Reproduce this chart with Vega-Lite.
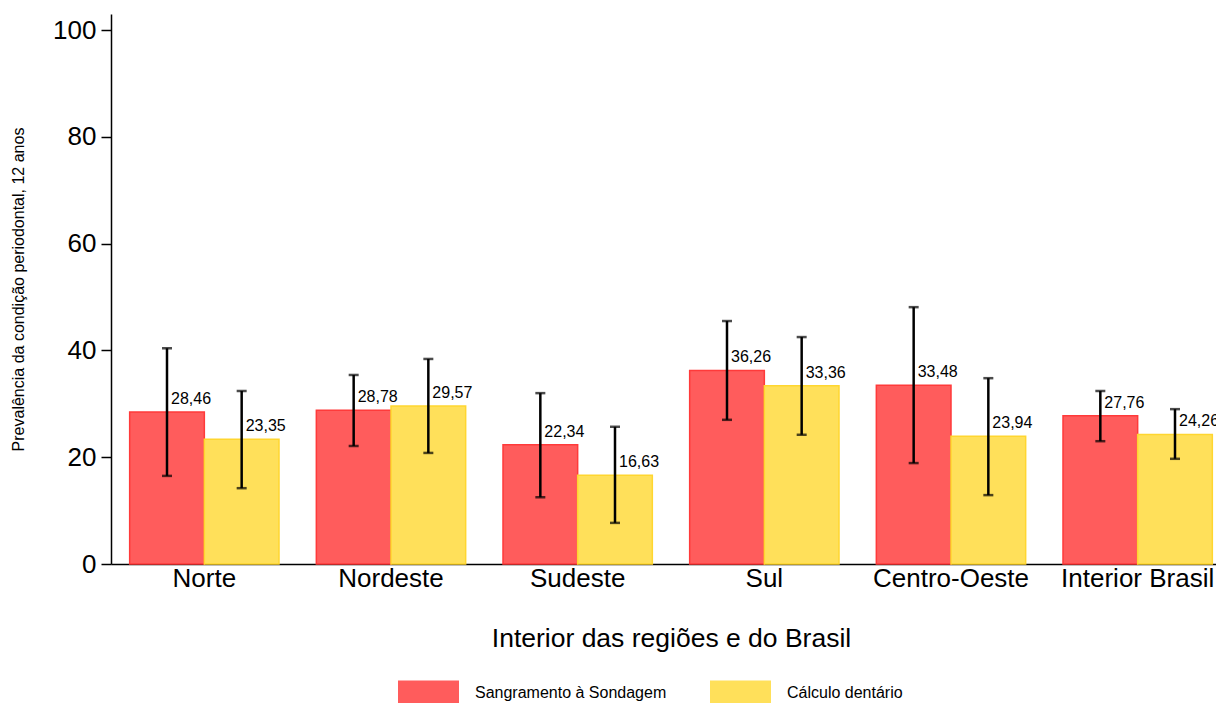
{
  "$schema": "https://vega.github.io/schema/vega-lite/v6.json",
  "autosize": {"type": "none"},
  "width": 1105,
  "height": 550,
  "padding": {"left": 111, "top": 14, "right": 0, "bottom": 139},
  "background": "white",
  "config": {
    "view": {"stroke": null},
    "font": "Liberation Sans",
    "locale": {"number": {"decimal": ",", "thousands": ".", "grouping": [3], "currency": ["R$", ""]}}
  },
  "data": {
    "values": [
      {"regiao": "Norte", "serie": "Sangramento à Sondagem", "valor": 28.46, "lo": 16.5, "hi": 40.4},
      {"regiao": "Norte", "serie": "Cálculo dentário", "valor": 23.35, "lo": 14.2, "hi": 32.4},
      {"regiao": "Nordeste", "serie": "Sangramento à Sondagem", "valor": 28.78, "lo": 22.1, "hi": 35.4},
      {"regiao": "Nordeste", "serie": "Cálculo dentário", "valor": 29.57, "lo": 20.8, "hi": 38.4},
      {"regiao": "Sudeste", "serie": "Sangramento à Sondagem", "valor": 22.34, "lo": 12.5, "hi": 32.0},
      {"regiao": "Sudeste", "serie": "Cálculo dentário", "valor": 16.63, "lo": 7.7, "hi": 25.7},
      {"regiao": "Sul", "serie": "Sangramento à Sondagem", "valor": 36.26, "lo": 27.0, "hi": 45.5},
      {"regiao": "Sul", "serie": "Cálculo dentário", "valor": 33.36, "lo": 24.2, "hi": 42.5},
      {"regiao": "Centro-Oeste", "serie": "Sangramento à Sondagem", "valor": 33.48, "lo": 18.9, "hi": 48.1},
      {"regiao": "Centro-Oeste", "serie": "Cálculo dentário", "valor": 23.94, "lo": 12.9, "hi": 34.8},
      {"regiao": "Interior Brasil", "serie": "Sangramento à Sondagem", "valor": 27.76, "lo": 23.0, "hi": 32.4},
      {"regiao": "Interior Brasil", "serie": "Cálculo dentário", "valor": 24.26, "lo": 19.7, "hi": 29.0}
    ]
  },
  "encoding": {
    "x": {
      "field": "regiao",
      "type": "nominal",
      "sort": ["Norte", "Nordeste", "Sudeste", "Sul", "Centro-Oeste", "Interior Brasil"],
      "scale": {"range": [0, 1120], "paddingInner": 0.2, "paddingOuter": 0.1},
      "axis": {
        "title": "Interior das regiões e do Brasil",
        "titleFontSize": 26.5,
        "titleFontWeight": "normal",
        "titleColor": "black",
        "titleX": 560,
        "titleY": 82,
        "titleBaseline": "alphabetic",
        "labelFontSize": 26,
        "labelColor": "black",
        "labelAngle": 0,
        "labelPadding": 1,
        "ticks": false,
        "domainColor": "black",
        "domainWidth": 1.5,
        "labelOverlap": false,
        "labelBound": false
      }
    },
    "xOffset": {
      "field": "serie",
      "type": "nominal",
      "sort": ["Sangramento à Sondagem", "Cálculo dentário"]
    }
  },
  "layer": [
    {
      "mark": {"type": "bar", "strokeWidth": 1.5},
      "encoding": {
        "y": {
          "field": "valor",
          "type": "quantitative",
          "scale": {"domain": [0, 103], "nice": false},
          "axis": {
            "title": "Prevalência da condição periodontal, 12 anos",
            "titleFontSize": 16,
            "titleFontWeight": "normal",
            "titleColor": "black",
            "titleX": -93,
            "titleY": 275,
            "titleAngle": -90,
            "titleAlign": "center",
            "titleBaseline": "middle",
            "values": [0, 20, 40, 60, 80, 100],
            "labelFontSize": 26,
            "labelColor": "black",
            "labelPadding": 5,
            "tickSize": 10,
            "tickColor": "black",
            "tickWidth": 1.5,
            "domainColor": "black",
            "domainWidth": 1.5,
            "grid": false
          }
        },
        "fill": {
          "field": "serie",
          "type": "nominal",
          "sort": ["Sangramento à Sondagem", "Cálculo dentário"],
          "scale": {"range": ["#FF5C5C", "#FFE05A"]},
          "legend": {
            "title": null,
            "orient": "none",
            "direction": "horizontal",
            "legendX": 286,
            "legendY": 647,
            "labelFontSize": 16,
            "labelColor": "black",
            "labelOffset": 15,
            "labelLimit": 400,
            "columnPadding": 42,
            "symbolType": "M-1,-0.4H1V0.4H-1Z",
            "symbolSize": 3721,
            "symbolStrokeWidth": 1.5,
            "symbolOpacity": 1
          }
        },
        "stroke": {
          "field": "serie",
          "type": "nominal",
          "sort": ["Sangramento à Sondagem", "Cálculo dentário"],
          "scale": {"range": ["#FF3A3A", "#FFD630"]},
          "legend": null
        }
      }
    },
    {
      "mark": {"type": "rule", "color": "black", "strokeWidth": 2.5},
      "encoding": {
        "y": {"field": "lo", "type": "quantitative"},
        "y2": {"field": "hi"}
      }
    },
    {
      "mark": {"type": "tick", "color": "black", "thickness": 2.5, "size": 10},
      "encoding": {
        "y": {"field": "lo", "type": "quantitative"}
      }
    },
    {
      "mark": {"type": "tick", "color": "black", "thickness": 2.5, "size": 10},
      "encoding": {
        "y": {"field": "hi", "type": "quantitative"}
      }
    },
    {
      "mark": {"type": "text", "align": "left", "baseline": "alphabetic", "dx": 4, "dy": -8, "fontSize": 16, "color": "black"},
      "encoding": {
        "y": {"field": "valor", "type": "quantitative"},
        "text": {"field": "valor", "type": "quantitative", "format": ".2f"}
      }
    }
  ]
}
